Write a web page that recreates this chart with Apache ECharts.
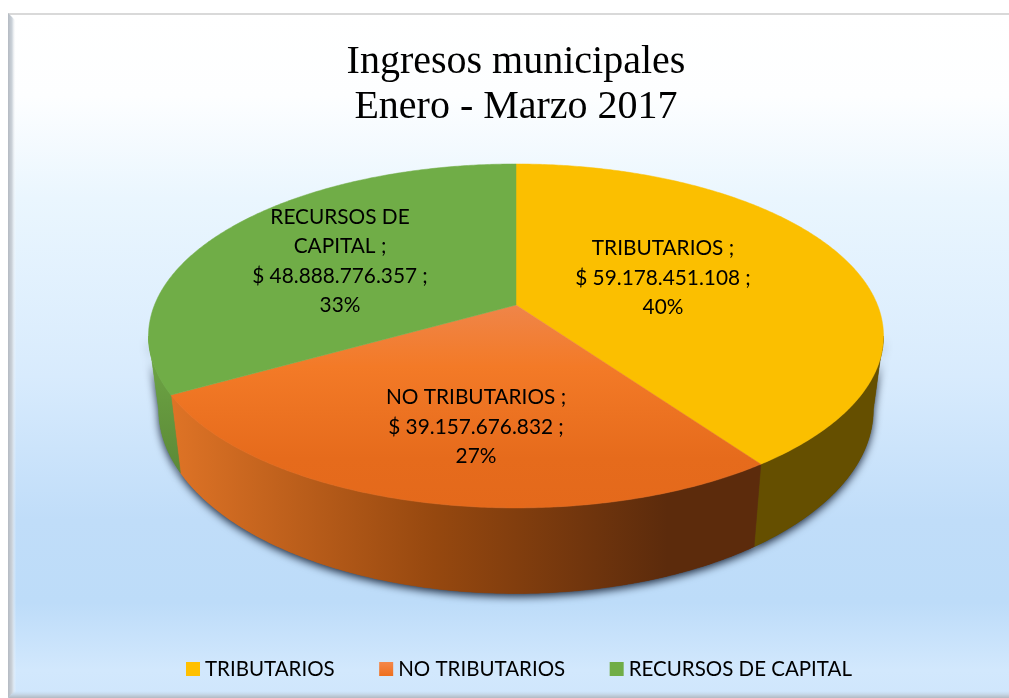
<!DOCTYPE html>
<html>
<head>
<meta charset="utf-8">
<title>Ingresos municipales</title>
<style>
  html, body { margin: 0; padding: 0; background: #fff; }
  #main { width: 1009px; height: 698px; }
</style>
<script src="https://cdn.jsdelivr.net/npm/echarts@6/dist/echarts.min.js"></script>
</head>
<body>
<div id="main"></div>
<script>
var categories = ['TRIBUTARIOS', 'NO TRIBUTARIOS', 'RECURSOS DE CAPITAL'];
var values = [59178451108, 39157676832, 48888776357];
var labelNames = ['TRIBUTARIOS ;', 'NO TRIBUTARIOS ;', 'RECURSOS DE\nCAPITAL ;'];
var titleText = 'Ingresos municipales\nEnero - Marzo 2017';

// where each data label sits, placed by hand like in the original
var labelAt = [[663, 278], [476, 427], [340, 261.5]];

// perspective of the disc: top rim and bottom rim of the cylinder
var cx = 516;
var persp = 0.18;
var topRim = { a: 361.5, b: 166.4, y: 305 };
var lowRim = { a: 351.5, b: 178, y: 376.4 };

function grad(x, y, x2, y2, stops) {
  return {
    type: 'linear', x: x, y: y, x2: x2, y2: y2, global: true,
    colorStops: stops.map(function (s) { return { offset: s[0], color: s[1] }; })
  };
}

var faceColors = [
  '#FBBF00',
  grad(0, 305, 0, 510, [[0, '#EF8549'], [0.3, '#F37A27'], [0.75, '#E66B1C'], [1, '#E4691B']]),
  '#70AD47'
];
var wallColors = [
  '#654F00',
  grad(172, 0, 755, 0, [[0, '#DE7326'], [0.45, '#96480F'], [0.85, '#5C2B0C'], [1, '#5C2B0C']]),
  grad(0, 340, 0, 470, [[0, '#6FA846'], [1, '#5C8A37']])
];
var legendColors = [
  '#FFC000',
  grad(0, 0, 0, 1, [[0, '#F4884B'], [1, '#EE6F1E']]),
  '#70AD47'
];
legendColors[1].global = false;

var total = values.reduce(function (a, b) { return a + b; }, 0);

// the rim is widest here, the wall silhouette runs from this angle on
var sideAngle = Math.acos(-persp) * 180 / Math.PI;

function rimPoint(rim, deg) {
  var t = deg * Math.PI / 180;
  var w = 1 + persp * Math.cos(t);
  return [cx + rim.a * Math.sin(t) / w, rim.y - rim.b * Math.cos(t) / w];
}

function arc(rim, from, to) {
  var pts = [];
  var n = Math.max(2, Math.ceil(Math.abs(to - from) * 2));
  for (var i = 0; i <= n; i++) {
    pts.push(rimPoint(rim, from + (to - from) * i / n));
  }
  return pts;
}

function money(v) {
  return '$ ' + String(v).replace(/\B(?=(\d{3})+(?!\d))/g, '.') + ' ;';
}

function sliceRender(index) {
  return function (params, api) {
    var before = 0;
    for (var i = 0; i < index; i++) before += values[i];
    var value = api.value(0);
    var start = before / total * 360;
    var end = (before + value) / total * 360;

    var wallFrom = Math.max(start, sideAngle);
    var wallTo = Math.min(end, 360 - sideAngle);
    var wall = arc(topRim, wallFrom, wallTo).concat(arc(lowRim, wallTo, wallFrom));
    var face = [[cx, topRim.y]].concat(arc(topRim, start, end));
    var pct = Math.round(value / total * 100) + '%';

    return {
      type: 'group',
      children: [
        {
          type: 'polygon', z2: 1,
          shape: { points: wall },
          style: {
            fill: wallColors[index],
            shadowBlur: 9, shadowColor: 'rgba(30,42,62,1)', shadowOffsetY: 3
          }
        },
        {
          type: 'polygon', z2: 2,
          shape: { points: wall },
          style: { fill: wallColors[index], stroke: wallColors[index], lineWidth: 0.5 }
        },
        {
          type: 'polygon', z2: 3,
          shape: { points: face },
          style: { fill: faceColors[index], stroke: faceColors[index], lineWidth: 0.5 }
        },
        {
          type: 'text', z2: 4,
          x: labelAt[index][0], y: labelAt[index][1],
          style: {
            text: labelNames[index] + '\n' + money(value) + '\n' + pct,
            font: '20.8px Lato',
            lineHeight: 29.5,
            fill: '#000',
            align: 'center',
            verticalAlign: 'middle'
          }
        }
      ]
    };
  };
}

var chart = echarts.init(document.getElementById('main'));

chart.setOption({
  animation: false,
  title: {
    text: titleText,
    left: 516, top: 39.5, padding: 0, textAlign: 'center',
    textStyle: {
      fontFamily: 'Liberation Serif', fontSize: 40, fontWeight: 'normal',
      color: '#000', lineHeight: 45.5
    }
  },
  legend: {
    left: 186, top: 658.5, padding: 0,
    itemWidth: 14, itemHeight: 14, itemGap: 44.5,
    icon: 'rect',
    textStyle: { fontFamily: 'Lato', fontSize: 20.5, color: '#000' },
    data: categories.map(function (c, i) {
      return { name: c, itemStyle: { color: legendColors[i] } };
    })
  },
  graphic: [
    {
      type: 'rect', z: -10,
      shape: { x: 8, y: 14, width: 1001, height: 684 },
      style: {
        fill: grad(0, 14, 0, 698, [
          [0, '#FFFFFF'], [0.12, '#FDFEFF'], [0.27, '#EAF6FE'], [0.53, '#D8EBFD'],
          [0.74, '#C0DDF9'], [0.86, '#BDDCF9'], [0.96, '#D2E8FD'], [1, '#CFE6FC']
        ])
      }
    },
    {
      type: 'rect', z: -9,
      shape: { x: 8, y: 13, width: 1001, height: 2 },
      style: { fill: '#D9D9D9' }
    },
    {
      type: 'polygon', z: -9,
      shape: { points: [[8, 13], [16, 21], [16, 692], [8, 698]] },
      style: { fill: grad(8, 0, 16, 0, [[0, '#B4BAC2'], [0.5, '#CCD3DA'], [1, 'rgba(255,255,255,0)']]) }
    },
    {
      type: 'polygon', z: -9,
      shape: { points: [[8, 698], [14, 691], [1009, 691], [1009, 698]] },
      style: { fill: grad(0, 691, 0, 698, [[0, 'rgba(200,220,238,0)'], [0.5, '#C5D6E6'], [1, '#B2BAC3']]) }
    }
  ],
  series: categories.map(function (c, i) {
    return {
      type: 'custom',
      name: c,
      coordinateSystem: 'none',
      silent: true,
      itemStyle: { color: '#FFC000' },
      renderItem: sliceRender(i),
      data: [[values[i]]]
    };
  })
});
</script>
</body>
</html>
